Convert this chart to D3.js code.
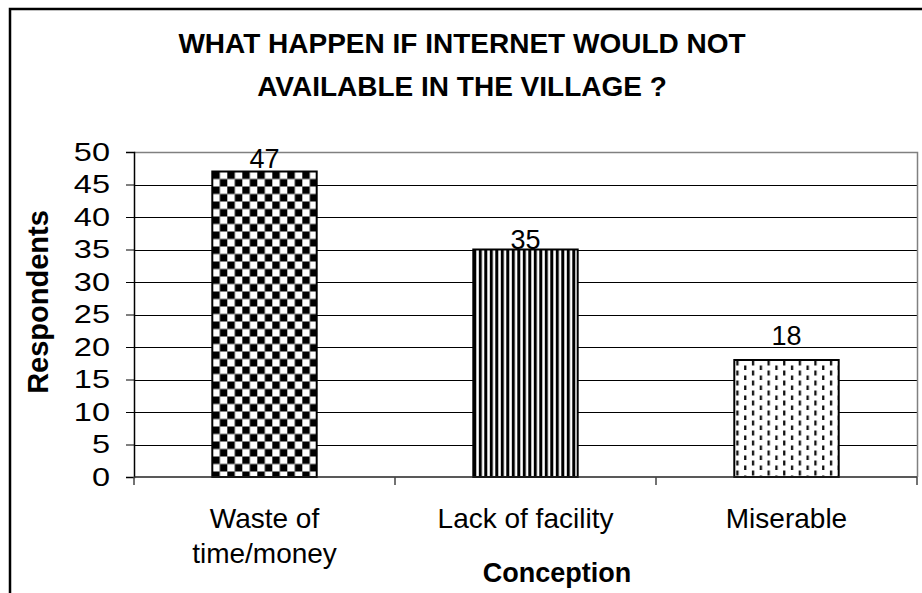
<!DOCTYPE html>
<html>
<head>
<meta charset="utf-8">
<script src="https://cdn.jsdelivr.net/npm/d3@7"></script>
<style>
  html, body { margin: 0; padding: 0; background: #fff; }
  svg { display: block; font-family: "Liberation Sans", Arial, sans-serif; }
</style>
</head>
<body>
<svg id="chart" width="922" height="593"></svg>
<script>
// Survey responses
const categories = ["Waste of time/money", "Lack of facility", "Miserable"];
const categoryLines = [["Waste of", "time/money"], ["Lack of facility"], ["Miserable"]];
const respondents = [47, 35, 18];
const yTicks = [0, 5, 10, 15, 20, 25, 30, 35, 40, 45, 50];
const titleLines = ["WHAT HAPPEN IF INTERNET WOULD NOT", "AVAILABLE IN THE VILLAGE ?"];
const yTitle = "Respondents";
const xTitle = "Conception";
const fills = ["url(#checker)", "url(#stripes)", "url(#dashes)"];
const labelGap = [4, 1, 15];

const svg = d3.select("#chart");
const plot = { left: 134, top: 152, right: 917, bottom: 477 };

const x = d3.scaleBand().domain(categories).range([plot.left, plot.right]).padding(0);
const y = d3.scaleLinear().domain([0, 50]).range([plot.bottom, plot.top]);
const barW = x.bandwidth() * 0.4;
const barX = c => x(c) + (x.bandwidth() - barW) / 2;

// Fill patterns
const defs = svg.append("defs");
const checker = defs.append("pattern").attr("id", "checker")
  .attr("patternUnits", "userSpaceOnUse").attr("width", 15).attr("height", 15)
  .attr("x", barX(categories[0])).attr("y", y(respondents[0]));
checker.append("rect").attr("width", 15).attr("height", 15).attr("fill", "#fff");
checker.append("rect").attr("width", 7.5).attr("height", 7.5).attr("fill", "#000");
checker.append("rect").attr("x", 7.5).attr("y", 7.5).attr("width", 7.5).attr("height", 7.5).attr("fill", "#000");

const stripes = defs.append("pattern").attr("id", "stripes")
  .attr("patternUnits", "userSpaceOnUse").attr("width", 5.5).attr("height", 10)
  .attr("x", barX(categories[1])).attr("y", 0);
stripes.append("rect").attr("width", 5.5).attr("height", 10).attr("fill", "#fff");
stripes.append("rect").attr("width", 3).attr("height", 10).attr("fill", "#000");

const dashes = defs.append("pattern").attr("id", "dashes")
  .attr("patternUnits", "userSpaceOnUse").attr("width", 15.6).attr("height", 10)
  .attr("x", barX(categories[2]) + 1).attr("y", y(respondents[2]));
dashes.append("rect").attr("width", 15.6).attr("height", 10).attr("fill", "#fff");
dashes.append("rect").attr("x", 1).attr("y", 0.5).attr("width", 2.3).attr("height", 5).attr("fill", "#111");
dashes.append("rect").attr("x", 8.8).attr("y", 5.5).attr("width", 2.3).attr("height", 5).attr("fill", "#111");

// Outer chart frame
svg.append("rect").attr("x", 10).attr("y", 9).attr("width", 1000).attr("height", 1000)
  .attr("fill", "none").attr("stroke", "#000").attr("stroke-width", 2.5);

// Gridlines
svg.append("g").selectAll("line").data(yTicks.filter(d => d > 0 && d < 50)).join("line")
  .attr("x1", plot.left).attr("x2", plot.right)
  .attr("y1", d => Math.round(y(d)) + 0.5).attr("y2", d => Math.round(y(d)) + 0.5)
  .attr("stroke", "#000").attr("stroke-width", 1);

// Plot area border (top and right)
svg.append("path")
  .attr("d", `M${plot.left},${plot.top + 0.5}H${plot.right + 0.5}V${plot.bottom}`)
  .attr("fill", "none").attr("stroke", "#808080").attr("stroke-width", 1.5);

// Bars
svg.append("g").selectAll("rect").data(categories).join("rect")
  .attr("x", d => barX(d)).attr("width", barW)
  .attr("y", (d, i) => y(respondents[i]))
  .attr("height", (d, i) => y(0) - y(respondents[i]))
  .attr("fill", (d, i) => fills[i])
  .attr("stroke", "#000").attr("stroke-width", 2);

// Value labels
svg.append("g").selectAll("text").data(categories).join("text")
  .attr("x", d => x(d) + x.bandwidth() / 2)
  .attr("y", (d, i) => y(respondents[i]) - labelGap[i])
  .attr("text-anchor", "middle").attr("font-size", 27).attr("fill", "#000")
  .text((d, i) => respondents[i]);

// Y axis (tick labels drawn slightly wide)
const stretch = 1.25;
const yAxis = svg.append("g").attr("transform", `translate(${plot.left},0)`)
  .call(d3.axisLeft(y).tickValues(yTicks).tickSize(8).tickFormat(d3.format("d")));
yAxis.select(".domain").attr("stroke", "#000").attr("stroke-width", 1.5);
yAxis.selectAll(".tick line").attr("stroke", "#000");
yAxis.selectAll(".tick text")
  .attr("font-size", 26).attr("fill", "#000")
  .attr("font-family", "Liberation Sans, Arial, sans-serif")
  .attr("x", -24 / stretch)
  .attr("transform", `scale(${stretch},1)`);

// X axis baseline with ticks at category boundaries
const bounds = categories.map(c => x(c)).concat([plot.right]);
svg.append("line").attr("x1", plot.left).attr("x2", plot.right)
  .attr("y1", plot.bottom).attr("y2", plot.bottom)
  .attr("stroke", "#222").attr("stroke-width", 1.5);
svg.append("g").selectAll("line").data(bounds).join("line")
  .attr("x1", d => d).attr("x2", d => d)
  .attr("y1", plot.bottom).attr("y2", plot.bottom + 8)
  .attr("stroke", "#444").attr("stroke-width", 1.5);

// Category labels
svg.append("g").selectAll("text").data(categories).join("text")
  .attr("x", d => x(d) + x.bandwidth() / 2)
  .attr("y", 528)
  .attr("text-anchor", "middle").attr("font-size", 28).attr("fill", "#000")
  .selectAll("tspan").data((d, i) => categoryLines[i]).join("tspan")
  .attr("x", function () { return this.parentNode.getAttribute("x"); })
  .attr("dy", (d, i) => i === 0 ? 0 : 35)
  .text(d => d);

// Axis titles
svg.append("text").attr("x", 557).attr("y", 582)
  .attr("text-anchor", "middle").attr("font-size", 27).attr("font-weight", "bold")
  .text(xTitle);
svg.append("text")
  .attr("transform", `translate(48,302) rotate(-90)`)
  .attr("text-anchor", "middle").attr("font-size", 29).attr("font-weight", "bold")
  .text(yTitle);

// Title
svg.append("g").selectAll("text").data(titleLines).join("text")
  .attr("x", 462).attr("y", (d, i) => 53 + i * 43)
  .attr("text-anchor", "middle").attr("font-size", 28).attr("font-weight", "bold")
  .text(d => d);
</script>
</body>
</html>
